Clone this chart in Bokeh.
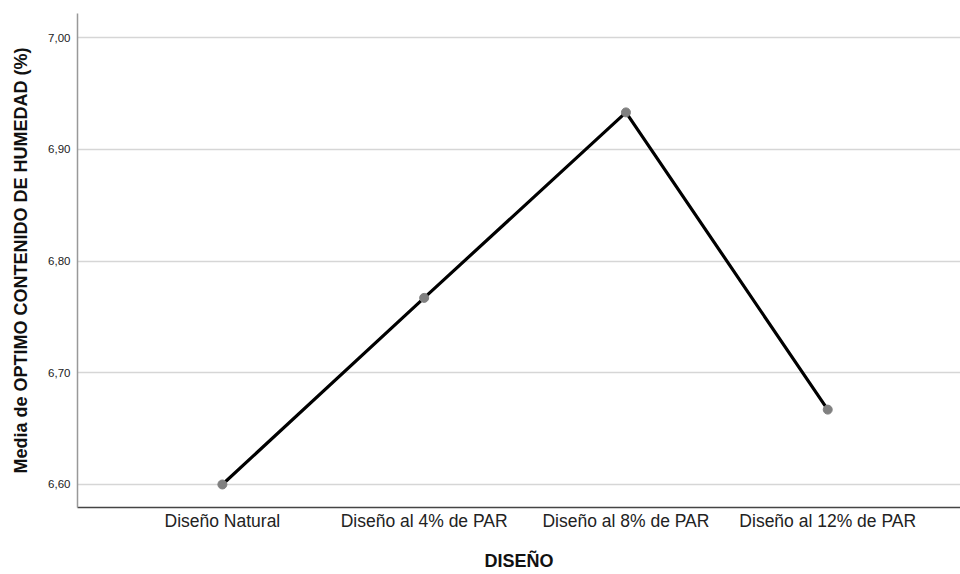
from bokeh.plotting import figure
from bokeh.models import Range1d, FixedTicker, ColumnDataSource
from bokeh.embed import file_html
from bokeh.resources import INLINE

categories = ["Diseño Natural", "Diseño al 4% de PAR", "Diseño al 8% de PAR", "Diseño al 12% de PAR"]
means = [6.600, 6.767, 6.933, 6.667]
y_ticks = [6.60, 6.70, 6.80, 6.90, 7.00]
y_tick_labels = ["6,60", "6,70", "6,80", "6,90", "7,00"]

xs = list(range(len(categories)))
src = ColumnDataSource(dict(x=xs, y=means))

p = figure(width=960, height=574, output_backend="svg", toolbar_location=None,
           x_range=Range1d(-0.718, 3.658), y_range=Range1d(6.5794, 7.0215),
           min_border_left=77, min_border_right=0, min_border_top=13, min_border_bottom=67)
p.outline_line_color = None
p.background_fill_color = "white"
p.border_fill_color = "white"

p.line("x", "y", source=src, line_color="black", line_width=3.2)
p.scatter("x", "y", source=src, size=9, fill_color="#808080", line_color="#808080")

# x axis
p.xaxis.ticker = FixedTicker(ticks=xs)
p.xaxis.major_label_overrides = {i: c for i, c in zip(xs, categories)}
p.xaxis.major_tick_line_color = None
p.xaxis.minor_tick_line_color = None
p.xaxis.major_tick_out = 0
p.xaxis.major_label_standoff = 3
p.xaxis.major_label_text_font = "Liberation Sans"
p.xaxis.major_label_text_font_size = "17.5px"
p.xaxis.major_label_text_color = "#222222"
p.xaxis.axis_label = "DISEÑO"
p.xaxis.axis_label_text_font = "Liberation Sans"
p.xaxis.axis_label_text_font_style = "bold"
p.xaxis.axis_label_text_font_size = "18px"
p.xaxis.axis_label_text_color = "#111111"
p.xaxis.axis_label_standoff = 17
p.xaxis.axis_line_color = "#444444"
p.xaxis.axis_line_width = 1.5

# y axis
p.yaxis.ticker = FixedTicker(ticks=y_ticks)
p.yaxis.major_label_overrides = {t: l for t, l in zip(y_ticks, y_tick_labels)}
p.yaxis.major_tick_line_color = None
p.yaxis.minor_tick_line_color = None
p.yaxis.major_tick_out = 0
p.yaxis.major_label_standoff = 7
p.yaxis.major_label_text_font = "Liberation Sans"
p.yaxis.major_label_text_font_size = "11.5px"
p.yaxis.major_label_text_color = "#222222"
p.yaxis.axis_label = "Media de OPTIMO CONTENIDO DE HUMEDAD (%)"
p.yaxis.axis_label_text_font = "Liberation Sans"
p.yaxis.axis_label_text_font_style = "bold"
p.yaxis.axis_label_text_font_size = "18px"
p.yaxis.axis_label_text_color = "#111111"
p.yaxis.axis_label_standoff = 14
p.yaxis.axis_line_color = "#999999"
p.yaxis.axis_line_width = 1.5

p.xgrid.grid_line_color = None
p.ygrid.grid_line_color = "#d6d6d6"
p.ygrid.grid_line_width = 1.5

open("out.html", "w").write(file_html(p, INLINE))
